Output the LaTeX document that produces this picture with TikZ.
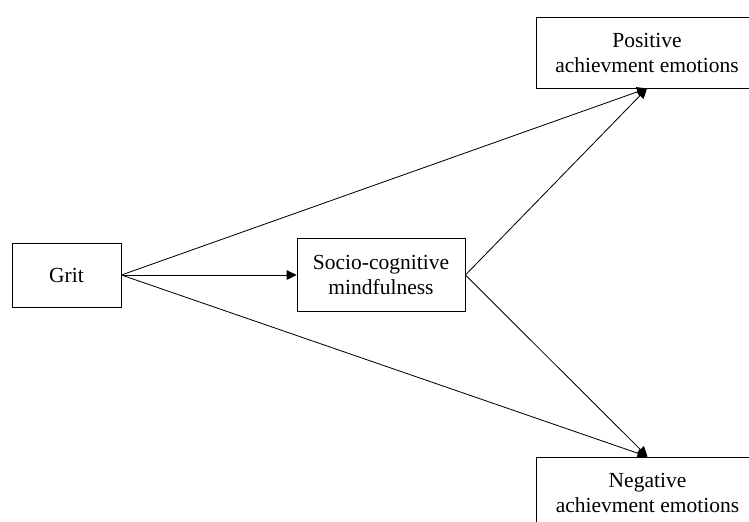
\documentclass[tikz,border=0pt]{standalone}
\usepackage{fontspec}
\setmainfont{Liberation Serif}
\usetikzlibrary{arrows.meta}

\tikzset{
    var/.style={draw, line width=0.5pt, align=center, inner sep=0pt, font=\fontsize{12.9}{15}\selectfont},
    path/.style={line width=0.5pt, -{Triangle[length=6pt, width=5.8pt]}}
}

\begin{document}
\begin{tikzpicture}[x=0.6pt, y=-0.6pt]

    % Frame
    \useasboundingbox (0,0) rectangle (749,521);
    \clip (0,0) rectangle (749,521);

    % Variables
    \node[var, minimum width=65.4pt, minimum height=38.4pt] (grit) at (66.5,275) {Grit};
    \node[var, minimum width=100.8pt, minimum height=43.8pt] (mind) at (381,275) {Socio-cognitive\\mindfulness};
    \node[var, minimum width=133.2pt, minimum height=42.6pt] (pos) at (647,52.5) {Positive\\achievment emotions};
    \node[var, minimum width=133.2pt, minimum height=42.6pt] (neg) at (647.5,492.5) {Negative\\achievment emotions};

    % Paths
    \draw[path] (grit.east) -- (mind.west);
    \draw[path] (grit.east) -- (pos.south);
    \draw[path] (grit.east) -- (neg.north);
    \draw[path] (mind.east) -- (pos.south);
    \draw[path] (mind.east) -- (neg.north);

\end{tikzpicture}
\end{document}
